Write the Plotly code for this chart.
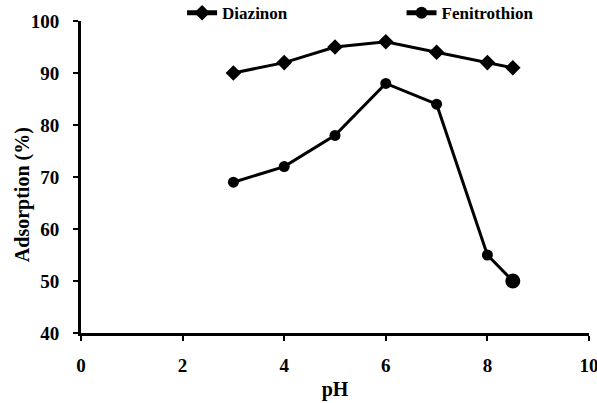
import plotly.graph_objects as go

ph = [3, 4, 5, 6, 7, 8, 8.5]
diazinon = [90, 92, 95, 96, 94, 92, 91]
fenitrothion = [69, 72, 78, 88, 84, 55, 50]
fen_sizes = [11, 11, 11, 11, 11, 11, 15]
x_ticks = [0, 2, 4, 6, 8, 10]
y_ticks = [40, 50, 60, 70, 80, 90, 100]

font_family = "Liberation Serif"

fig = go.Figure()
fig.add_trace(go.Scatter(
    x=ph, y=diazinon, name="<b>Diazinon</b>", mode="lines+markers",
    line=dict(color="black", width=3),
    marker=dict(symbol="diamond", size=12, color="black", line=dict(width=0)),
    legend="legend", showlegend=True,
))
fig.add_trace(go.Scatter(
    x=ph, y=fenitrothion, name="<b>Fenitrothion</b>", mode="lines+markers",
    line=dict(color="black", width=3),
    marker=dict(symbol="circle", size=fen_sizes, color="black", opacity=1,
                line=dict(width=0, color="black")),
    legend="legend2", showlegend=True,
))

leg_common = dict(
    yanchor="middle", xanchor="left", y=1.025,
    font=dict(size=17, family=font_family, color="black"),
    bgcolor="rgba(0,0,0,0)", itemsizing="constant", borderwidth=0,
    visible=True,
)

fig.update_layout(
    width=597, height=403,
    showlegend=True,
    margin=dict(l=81, r=8, t=21, b=70, autoexpand=False),
    paper_bgcolor="white", plot_bgcolor="white",
    font=dict(family=font_family, color="black", size=16),
    legend=dict(x=0.199, **leg_common),
    legend2=dict(x=0.631, **leg_common),
    xaxis=dict(
        range=[0, 10], tickvals=x_ticks,
        ticktext=[f"<b>{v}</b>" for v in x_ticks],
        showline=True, linecolor="black", linewidth=3,
        ticks="outside", ticklen=5, tickwidth=2, tickcolor="black",
        showgrid=False, zeroline=False, ticklabeloverflow="allow",
        ticklabelstandoff=8, automargin=False,
        title=dict(text="<b>pH</b>", font=dict(size=20), standoff=8),
        tickfont=dict(size=19),
    ),
    yaxis=dict(
        range=[40, 100], tickvals=y_ticks,
        ticktext=[f"<b>{v}</b>" for v in y_ticks],
        showline=True, linecolor="black", linewidth=3,
        ticks="outside", ticklen=5, tickwidth=2, tickcolor="black",
        showgrid=False, zeroline=False, ticklabeloverflow="allow",
        ticklabelstandoff=10, automargin=False,
        tickfont=dict(size=19),
    ),
    annotations=[dict(
        text="<b>Adsorption (%)</b>", textangle=-90,
        xref="paper", yref="paper", x=-0.116, y=0.442,
        xanchor="center", yanchor="middle", showarrow=False,
        font=dict(size=20, family=font_family, color="black"),
    )],
)

fig.write_html("out.html")
